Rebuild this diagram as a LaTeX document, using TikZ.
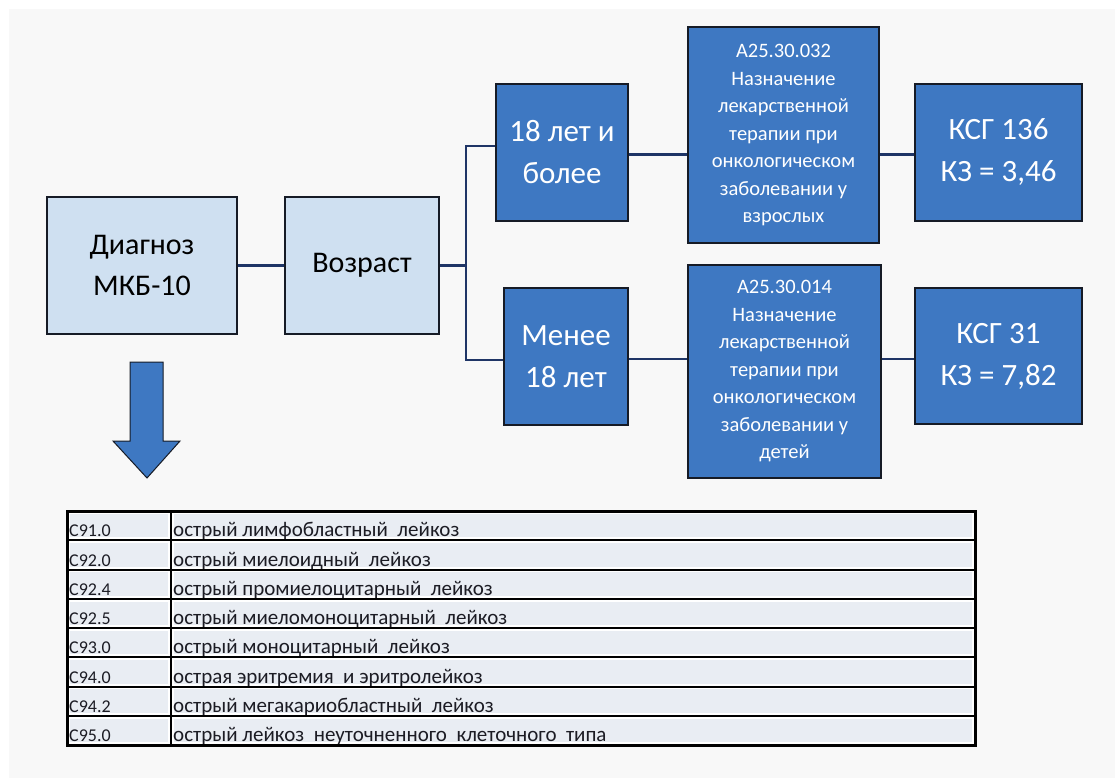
\documentclass[tikz,border=0pt]{standalone}
\usepackage{fontspec}
\setmainfont{Carlito}
\definecolor{pagebg}{HTML}{F8F8F8}
\definecolor{lightfill}{HTML}{CFE0F1}
\definecolor{darkfill}{HTML}{3E78C2}
\definecolor{boxline}{HTML}{161B26}
\definecolor{linkcol}{HTML}{1F3566}
\definecolor{cellfill}{HTML}{E9EDF3}
\definecolor{tabtext}{HTML}{1C1C24}
\begin{document}
\begin{tikzpicture}[x=1pt,y=-1pt,
  lightbox/.style={draw=boxline, line width=1.6pt, fill=lightfill, inner sep=0pt, align=center, font=\fontsize{30}{41}\selectfont, text=black},
  darkbox/.style={draw=boxline, line width=1.6pt, fill=darkfill, inner sep=0pt, align=center, font=\fontsize{31}{42}\selectfont, text=white},
  smallbox/.style={darkbox, font=\fontsize{20.5}{27.5}\selectfont},
  link/.style={draw=linkcol, line width=2.2pt},
  codetxt/.style={anchor=base west, inner sep=0pt, font=\fontsize{18}{18}\selectfont, text=tabtext},
  desctxt/.style={anchor=base west, inner sep=0pt, font=\fontsize{21}{21}\selectfont, text=tabtext},
  cell/.style={fill=cellfill, draw=white, line width=1.2pt},
  tabline/.style={draw=black, line width=2pt},
]
\useasboundingbox (0,0) rectangle (1115,778);
\fill[white] (0,0) rectangle (1115,778);
\fill[pagebg] (9,9) rectangle (1115,778);

% boxes
\node[lightbox, minimum width=190pt, minimum height=137pt] (diag) at (142,265.5) {Диагноз\\МКБ-10};
\node[lightbox, minimum width=154pt, minimum height=137pt] (vozr) at (362,265.5) {Возраст};
\node[darkbox, minimum width=132pt, minimum height=137pt] (adult) at (562,152.5) {18 лет и\\более};
\node[darkbox, minimum width=124pt, minimum height=137pt] (child) at (566,356.5) {Менее\\18 лет};
\node[smallbox, minimum width=191pt, minimum height=216pt] (a032) at (783.5,135) {A25.30.032\\Назначение\\лекарственной\\терапии при\\онкологическом\\заболевании у\\взрослых};
\node[smallbox, minimum width=193pt, minimum height=213pt] (a014) at (784.5,371.5) {A25.30.014\\Назначение\\лекарственной\\терапии при\\онкологическом\\заболевании у\\детей};
\node[darkbox, minimum width=167pt, minimum height=137pt] (k136) at (998.5,152.5) {КСГ 136\\КЗ = 3,46};
\node[darkbox, minimum width=167pt, minimum height=136pt] (k31) at (998.5,356) {КСГ 31\\КЗ = 7,82};

% connectors
\coordinate (br) at (466,265.5);
\draw[link] (diag.east) -- (vozr.west);
\draw[link] (vozr.east) -- (br);
\draw[link] ([yshift=6.5pt]adult.west) -| (br) |- ([yshift=-3.5pt]child.west);
\draw[link] ([yshift=-2pt]adult.east) -- ([yshift=-2pt]adult.east -| a032.west);
\draw[link] ([yshift=-2.5pt]child.east) -- ([yshift=-2.5pt]child.east -| a014.west);
\draw[link] ([yshift=-2pt]k136.west) -- ([yshift=-2pt]k136.west -| a032.east);
\draw[link] ([yshift=-3pt]k31.west) -- ([yshift=-3pt]k31.west -| a014.east);

% big arrow
\draw[fill=darkfill, draw=boxline, line width=1pt, line join=miter]
  (130,362) -- (163,362) -- (163,441) -- (180,441) -- (147,478) -- (113,441) -- (130,441) -- cycle;

% table
\fill[white] (67,511) rectangle (975,745);
\foreach \i/\code/\desc [count=\k from 0] in {
  1/C91.0/острый лимфобластный\ \ лейкоз,
  2/C92.0/острый миелоидный\ \ лейкоз,
  3/C92.4/острый промиелоцитарный\ \ лейкоз,
  4/C92.5/острый миеломоноцитарный\ \ лейкоз,
  5/C93.0/острый моноцитарный\ \ лейкоз,
  6/C94.0/острая эритремия\ \ и эритролейкоз,
  7/C94.2/острый мегакариобластный\ \ лейкоз,
  8/C95.0/острый лейкоз\ \ неуточненного\ \ клеточного\ \ типа}{
  \pgfmathsetmacro{\ytop}{511+\k*29.25}
  \pgfmathsetmacro{\ybot}{511+(\k+1)*29.25}
  \path[cell] (69.5,\ytop+2.2) rectangle (169,\ybot-2.2);
  \path[cell] (173.5,\ytop+2.2) rectangle (972.5,\ybot-2.2);
  \node[codetxt] (code\i) at (69,\ybot-3.5) {\code};
  \node[desctxt] (desc\i) at (173,\ybot-3.5) {\desc};
  \draw[tabline] (67,\ybot) -- (975,\ybot);
}
\draw[tabline] (171,511) -- (171,745);
\draw[draw=black, line width=3pt] (67,511) rectangle (975,745);
\end{tikzpicture}
\end{document}
